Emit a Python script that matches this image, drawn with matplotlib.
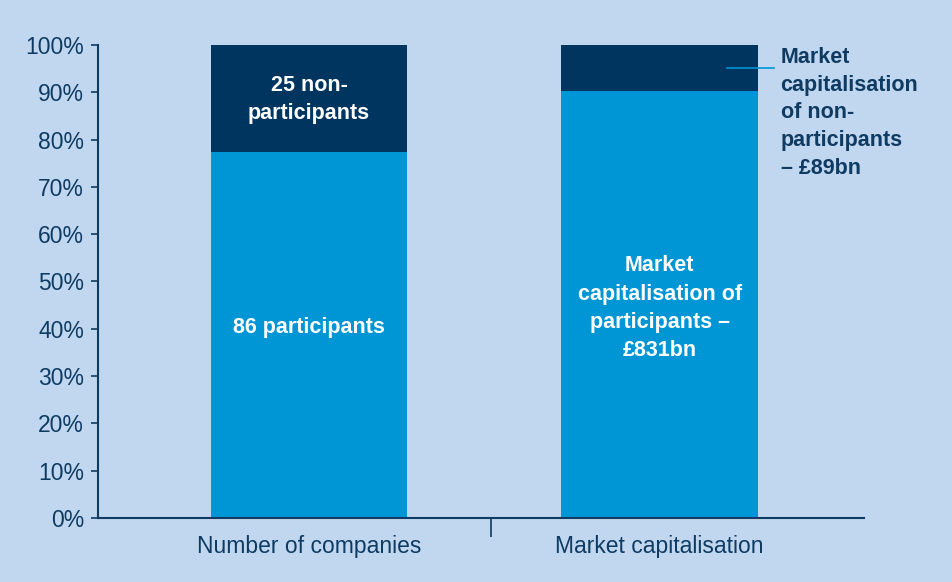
import numpy as np
import matplotlib.pyplot as plt

plt.rcParams['font.family'] = ['Liberation Sans', 'DejaVu Sans']

categories = ['Number of companies', 'Market capitalisation']
participants = [86, 831]        # companies, £bn
non_participants = [25, 89]     # companies, £bn
yticks = [0, 10, 20, 30, 40, 50, 60, 70, 80, 90, 100]

bg = '#c0d7ef'
light = '#0095d5'
dark = '#003560'
navy = '#0f3b63'

totals = np.array(participants) + np.array(non_participants)
part_pct = np.array(participants) / totals * 100
non_pct = np.array(non_participants) / totals * 100

fig = plt.figure(figsize=(9.52, 5.82), dpi=100, facecolor=bg)
ax = fig.add_axes([0.1029, 0.110, 0.8047, 0.8127], facecolor=bg)

x = np.arange(len(categories))
ax.bar(x, part_pct, width=0.56, color=light)
ax.bar(x, non_pct, width=0.56, bottom=part_pct, color=dark)

ax.set_xlim(-0.602, 1.583)
ax.set_ylim(0, 100)
ax.set_yticks(yticks)
ax.set_yticklabels([f'{t}%' for t in yticks])
ax.set_xticks(x)
ax.set_xticklabels(categories)
ax.tick_params(axis='x', length=0, pad=12, labelsize=16.5, labelcolor=navy)
ax.tick_params(axis='y', length=5, width=1.2, color=navy, labelsize=16.5,
               labelcolor=navy, pad=5)
ax.set_xticks([0.52], minor=True)
ax.tick_params(axis='x', which='minor', length=14, width=1.2, color=navy)

for s in ['top', 'right']:
    ax.spines[s].set_visible(False)
for s in ['left', 'bottom']:
    ax.spines[s].set_color(navy)
    ax.spines[s].set_linewidth(1.5)

txt = dict(color='white', fontsize=15.5, fontweight='bold', ha='center',
           va='center', linespacing=1.45)
ax.text(0, part_pct[0] + non_pct[0] / 2 - 0.3, '25 non-\nparticipants', **txt)
ax.text(0, part_pct[0] / 2 + 1.6, '86 participants', **txt)
ax.text(1, part_pct[1] / 2 - 0.8,
        'Market\ncapitalisation of\nparticipants \u2013\n\u00a3831bn', **txt)

yl = part_pct[1] + non_pct[1] / 2
ax.plot([1.193, 1.325], [yl, yl], color=light, lw=1.2, clip_on=False)
ax.text(1.345, 99.6, 'Market\ncapitalisation\nof non-\nparticipants\n\u2013 \u00a389bn',
        color=navy, fontsize=15.5, fontweight='bold', ha='left', va='top',
        linespacing=1.42, clip_on=False)

plt.savefig('out.png', dpi=100, facecolor=bg)
